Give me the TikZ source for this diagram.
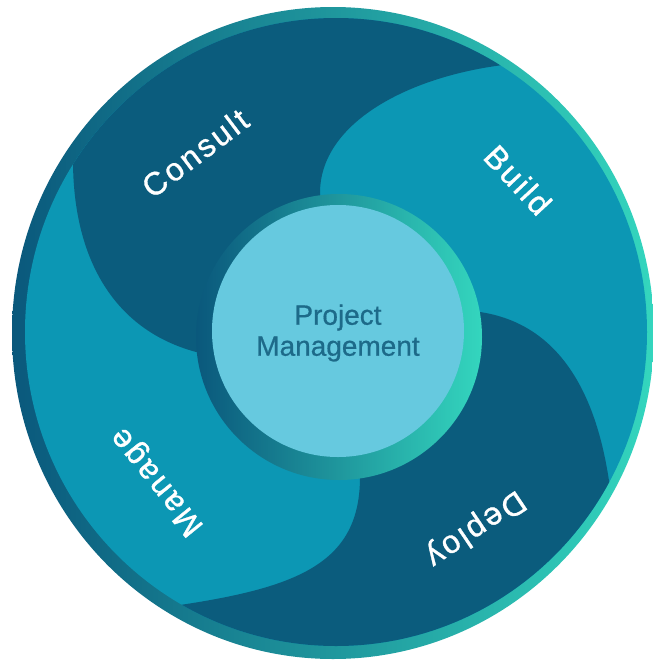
\documentclass[tikz,border=0pt]{standalone}
\usepackage{fontspec}
\setmainfont{Liberation Sans}
\newfontfamily\phasefont[LetterSpace=8, FakeBold=1]{Liberation Sans}
\newfontfamily\hubfont[FakeBold=0.6]{Liberation Sans}

\definecolor{rimdark}{HTML}{0A587C}
\definecolor{rimgreen}{HTML}{34D6BE}
\definecolor{wheelmid}{HTML}{0C97B4}
\definecolor{petaldark}{HTML}{0B5C7D}
\definecolor{hublight}{HTML}{66C9DF}
\definecolor{hubtext}{HTML}{1D6A89}

\tikzset{
  phase/.style={text=white, inner sep=0pt, font=\phasefont\fontsize{32}{38}\selectfont},
  hub/.style={text=hubtext, align=center, inner sep=0pt, font=\hubfont\fontsize{28}{31}\selectfont},
}

\begin{document}
\begin{tikzpicture}[x=1pt,y=-1pt]
\useasboundingbox (0,0) rectangle (653,662);
% outer rim and wheel
\shade[left color=rimdark, right color=rimgreen] (333,333) ellipse [x radius=321, y radius=326];
\fill[wheelmid] (336,332) ellipse [x radius=311, y radius=314];
% dark petals
\begin{scope}
\clip (336,332) ellipse [x radius=311, y radius=314];
\fill[petaldark] (320,193) .. controls (320,123) and (408,77) .. (503,65) -- (560,-30) -- (-30,-30) -- (-30,150) -- (73,160)
  .. controls (73,260) and (115,332) .. (200,353) -- (339,335) -- cycle;
\fill[petaldark] (480,312) .. controls (560,324) and (601,395) .. (612,505) -- (700,560) -- (700,700) -- (100,700) -- (180,605)
  .. controls (300,587) and (360,562) .. (360,477) -- (339,335) -- cycle;
\end{scope}
% hub
\shade[left color=rimdark, right color=rimgreen] (339,337) circle [radius=143];
\fill[hublight] (338,331) circle [radius=126];
\node[hub] (pm) at (338,333) {Project\\Management};
% phases
\node[phase, rotate=37] (consult) at (195,153) {Consult};
\node[phase, rotate=-47] (build) at (518,180) {Build};
\node[phase, rotate=214] (deploy) at (475,528) {Deploy};
\node[phase, rotate=129] (manage) at (158,481) {Manage};
\end{tikzpicture}
\end{document}
